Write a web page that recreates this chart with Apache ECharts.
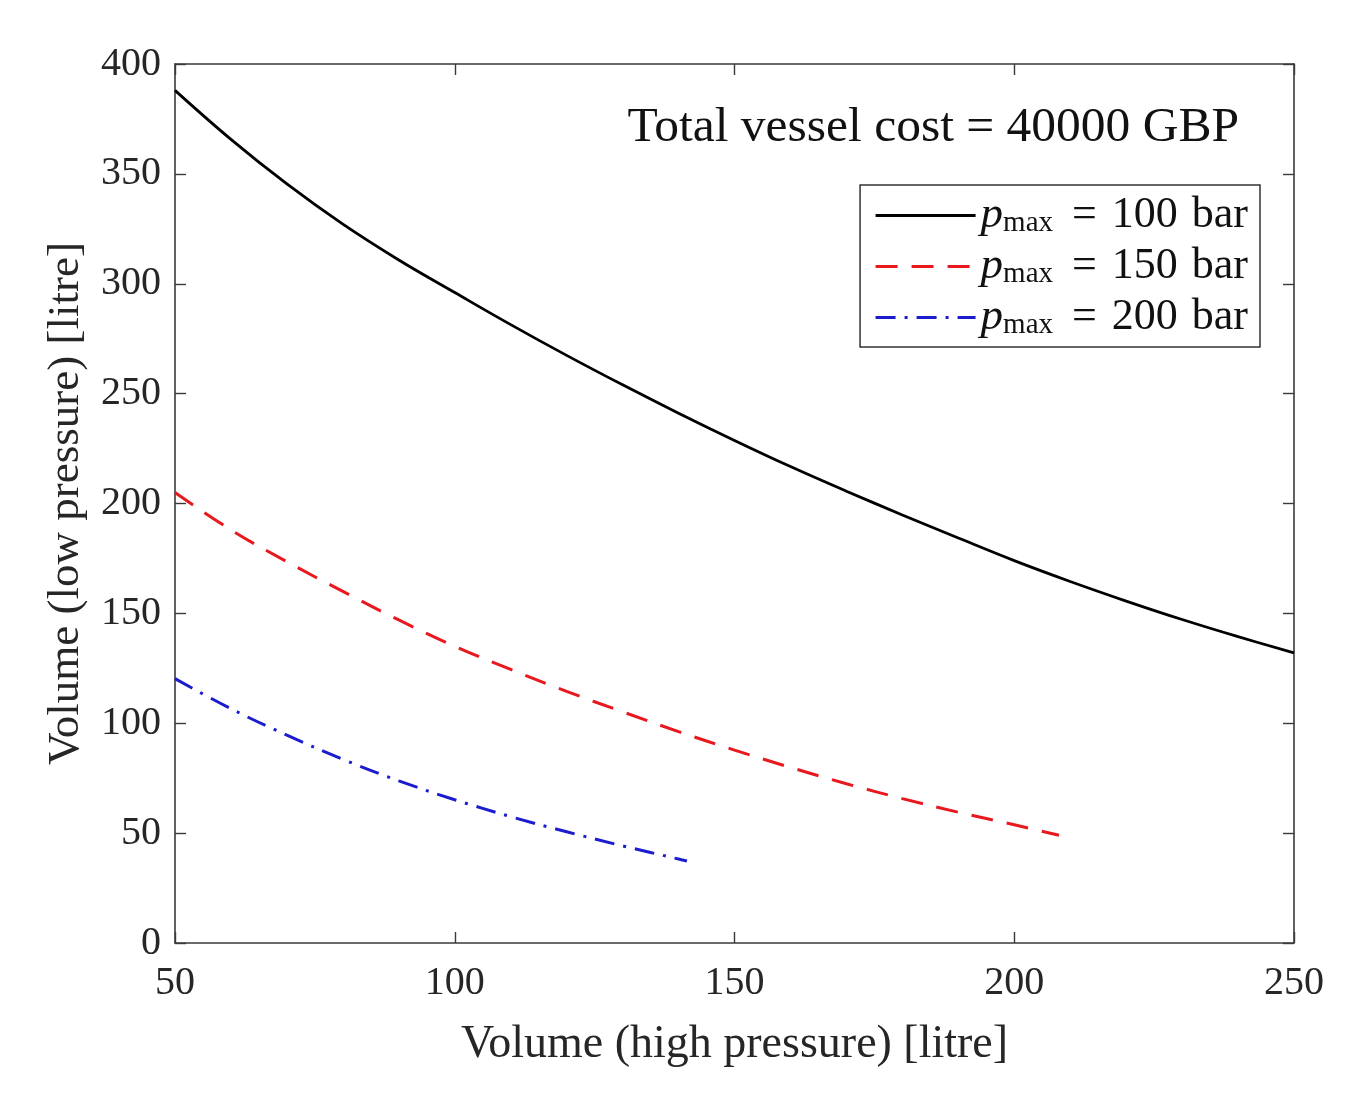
<!DOCTYPE html>
<html>
<head>
<meta charset="utf-8">
<script src="https://cdn.jsdelivr.net/npm/echarts@6/dist/echarts.min.js"></script>
<style>
html,body{margin:0;padding:0;background:#fff;}
#chart{width:1345px;height:1094px;}
</style>
</head>
<body>
<div id="chart"></div>
<script>
// ---- data ----
const xTicks = [50, 100, 150, 200, 250];
const yTicks = [0, 50, 100, 150, 200, 250, 300, 350, 400];

const x100 = [50, 60, 70, 80, 90, 100, 110, 120, 130, 140, 150, 160, 170, 180, 190, 200, 210, 220, 230, 240, 250];
const y100 = [388, 365.7, 345.4, 327.1, 310.8, 296, 281.4, 267.4, 254, 241.1, 228.7, 216.8, 205.6, 194.8, 184.3, 174, 164.5, 155.6, 147.2, 139.4, 132];

const x150 = [50, 60, 70, 80, 90, 100, 110, 120, 130, 140, 150, 160, 170, 180, 190, 200, 208];
const y150 = [205, 188, 173.5, 160, 147, 135, 124.5, 114.5, 105.2, 96.2, 87.8, 79.9, 72.5, 65.7, 59.5, 53.8, 49];

const x200 = [50, 60, 70, 80, 90, 100, 110, 120, 130, 140, 141.5];
const y200 = [120.3, 106.6, 94.6, 83.6, 73.8, 65.2, 57.5, 50.6, 44.2, 38.2, 37.3];

const pressures = ['100', '150', '200'];
const seriesNames = pressures.map(p => 'pmax = ' + p + ' bar');
const titleText = 'Total vessel cost = 40000 GBP';
const xName = 'Volume (high pressure) [litre]';
const yName = 'Volume (low pressure) [litre]';

const pairs = (xs, ys) => xs.map((x, i) => [x, ys[i]]);

const SERIF = '"Liberation Serif", "DejaVu Serif", serif';
const AX = '#3a3a3a';
const TXT = '#262626';

const chart = echarts.init(document.getElementById('chart'), null, {renderer: 'canvas'});

const baseX = {
  type: 'value', min: 50, max: 250, interval: 50,
  axisLine: {show: true, onZero: false, lineStyle: {color: AX, width: 1.6}},
  axisTick: {show: true, inside: true, length: 11, lineStyle: {color: AX, width: 1.4}},
  splitLine: {show: false}
};
const baseY = {
  type: 'value', min: 0, max: 400, interval: 50,
  axisLine: {show: true, onZero: false, lineStyle: {color: AX, width: 1.6}},
  axisTick: {show: true, inside: true, length: 11, lineStyle: {color: AX, width: 1.4}},
  splitLine: {show: false}
};

const option = {
  backgroundColor: '#fff',
  animation: false,
  title: {
    text: titleText,
    right: 101, top: 98,
    textStyle: {fontFamily: SERIF, fontSize: 49.5, fontWeight: 'normal', color: '#111'}
  },
  grid: {left: 175, right: 51, top: 64, bottom: 151, outerBoundsMode: 'none', containLabel: false},
  legend: {
    orient: 'vertical',
    right: 85, top: 185,
    itemWidth: 100, itemHeight: 14, itemGap: 6,
    padding: [8, 12, 7, 14],
    borderColor: '#333', borderWidth: 1.5,
    backgroundColor: '#fff',
    itemStyle: {opacity: 0},
    lineStyle: {width: 3},
    data: seriesNames,
    formatter: function (name) {
      const p = pressures[seriesNames.indexOf(name)];
      return '{p|p}{s|max}{e|=}{n|' + p + '}{b|bar}';
    },
    textStyle: {
      fontFamily: SERIF, color: '#111', fontSize: 44,
      rich: {
        p: {fontFamily: SERIF, fontStyle: 'italic', fontSize: 45, color: '#111', lineHeight: 44},
        s: {fontFamily: SERIF, fontSize: 29, color: '#111', padding: [16, 0, 0, 0], lineHeight: 44},
        e: {fontFamily: SERIF, fontSize: 44, color: '#111', lineHeight: 44, padding: [0, 15, 0, 19]},
        n: {fontFamily: SERIF, fontSize: 44, color: '#111', lineHeight: 44, padding: [0, 14, 0, 0]},
        b: {fontFamily: SERIF, fontSize: 44, color: '#111', lineHeight: 44}
      }
    }
  },
  xAxis: [
    Object.assign({}, baseX, {
      position: 'bottom',
      name: xName, nameLocation: 'middle', nameGap: 79,
      nameTextStyle: {fontFamily: SERIF, fontSize: 46, color: TXT},
      axisLabel: {show: true, margin: 20, fontFamily: SERIF, fontSize: 40, color: TXT,
        customValues: xTicks}
    }),
    Object.assign({}, baseX, {position: 'top', axisLabel: {show: false}})
  ],
  yAxis: [
    Object.assign({}, baseY, {
      position: 'left',
      name: yName, nameLocation: 'middle', nameGap: 86, nameRotate: 90,
      nameTextStyle: {fontFamily: SERIF, fontSize: 45, color: TXT},
      axisLabel: {show: true, margin: 14, fontFamily: SERIF, fontSize: 40, color: TXT,
        customValues: yTicks}
    }),
    Object.assign({}, baseY, {position: 'right', axisLabel: {show: false}})
  ],
  series: [
    {
      name: seriesNames[0], type: 'line', data: pairs(x100, y100),
      smooth: 0.4, symbol: 'none',
      lineStyle: {color: '#000', width: 2.8, type: 'solid'}, itemStyle: {color: '#000'}
    },
    {
      name: seriesNames[1], type: 'line', data: pairs(x150, y150),
      smooth: 0.4, symbol: 'none',
      lineStyle: {color: '#e8191e', width: 3, type: [22, 14]}, itemStyle: {color: '#e8191e'}
    },
    {
      name: seriesNames[2], type: 'line', data: pairs(x200, y200),
      smooth: 0.4, symbol: 'none',
      lineStyle: {color: '#1c1ccf', width: 3, type: [20, 9, 3, 9]}, itemStyle: {color: '#1c1ccf'}
    }
  ]
};
chart.setOption(option);
</script>
</body>
</html>
